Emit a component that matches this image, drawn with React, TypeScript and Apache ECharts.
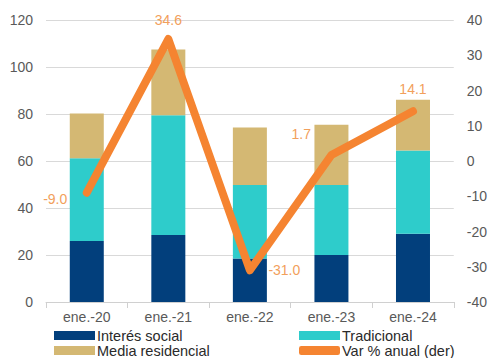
import React, { useEffect, useRef } from "react";
import * as echarts from "echarts";

const categories = ["ene.-20", "ene.-21", "ene.-22", "ene.-23", "ene.-24"];
const interesSocial = [26, 28.5, 18.5, 20, 29];
const tradicional = [35.2, 51, 31.3, 29.8, 35.5];
const mediaResidencial = [19, 28, 24.5, 25.6, 21.6];
const varAnual = [-9.0, 34.6, -31.0, 1.7, 14.1];

const leftTicks = { min: 0, max: 120, interval: 20 };
const rightTicks = { min: -40, max: 40, interval: 10 };

const labelPlacement: any[] = [
  { position: "left", distance: 19, offset: [0, 6] },
  { position: "top", distance: 12, offset: [0, 0] },
  { position: "right", distance: 18, offset: [0, 0] },
  { position: "left", distance: 20, offset: [0, -21] },
  { position: "top", distance: 15, offset: [0, 0] },
];

export default function App() {
  const ref = useRef<HTMLDivElement>(null);
  useEffect(() => {
    if (!ref.current) return;
    const chart = echarts.init(ref.current, null, { renderer: "svg" });
    const font = "Liberation Sans, Arial, sans-serif";
    const axisLabel = { color: "#595959", fontSize: 14, fontFamily: font };
    const legendCommon = {
      orient: "vertical",
      top: 328,
      height: 40,
      itemWidth: 41,
      itemHeight: 9,
      itemGap: 0,
      padding: 0,
      textStyle: { color: "#2a2a2a", fontSize: 14.5, fontFamily: font, padding: [0, 0, 0, -3] },
    };
    chart.setOption({
      animation: false,
      backgroundColor: "#ffffff",
      textStyle: { fontFamily: font },
      grid: { left: 46, right: 34, top: 20, bottom: 56, containLabel: false },
      legend: [
        {
          ...legendCommon,
          left: 54,
          data: [
            { name: "Interés social", icon: "rect" },
            { name: "Media residencial", icon: "rect" },
          ],
        },
        {
          ...legendCommon,
          left: 299,
          data: [
            { name: "Tradicional", icon: "rect" },
            { name: "Var % anual (der)", icon: "roundRect" },
          ],
        },
      ],
      xAxis: {
        type: "category",
        data: categories,
        axisLine: { lineStyle: { color: "#d0d0d0" } },
        axisTick: { show: true, alignWithLabel: false, length: 6, lineStyle: { color: "#d0d0d0" } },
        axisLabel: { ...axisLabel, margin: 8 },
      },
      yAxis: [
        {
          type: "value",
          ...leftTicks,
          axisLine: { show: false },
          axisTick: { show: false },
          axisLabel: { ...axisLabel, margin: 13 },
          splitLine: { lineStyle: { color: "#d9d9d9" } },
        },
        {
          type: "value",
          ...rightTicks,
          position: "right",
          axisLine: { show: false },
          axisTick: { show: false },
          axisLabel: { ...axisLabel, margin: 13 },
          splitLine: { show: false },
        },
      ],
      series: [
        {
          name: "Interés social",
          type: "bar",
          stack: "total",
          barWidth: 34,
          itemStyle: { color: "#023F7C" },
          data: interesSocial,
        },
        {
          name: "Tradicional",
          type: "bar",
          stack: "total",
          barWidth: 34,
          itemStyle: { color: "#2ECCCB" },
          data: tradicional,
        },
        {
          name: "Media residencial",
          type: "bar",
          stack: "total",
          barWidth: 34,
          itemStyle: { color: "#D4B873" },
          data: mediaResidencial,
        },
        {
          name: "Var % anual (der)",
          type: "line",
          yAxisIndex: 1,
          symbol: "circle",
          symbolSize: 1,
          showSymbol: true,
          lineStyle: { color: "#F58431", width: 8, cap: "round", join: "round" },
          itemStyle: { color: "#F58431" },
          z: 5,
          data: varAnual.map((v, i) => ({
            value: v,
            label: {
              show: true,
              formatter: (p: any) => Number(p.value).toFixed(1),
              color: "#F2A05C",
              fontSize: 14,
              fontFamily: font,
              ...labelPlacement[i],
            },
          })),
        },
      ],
    });
    return () => chart.dispose();
  }, []);
  return (
    <div
      ref={ref}
      style={{ position: "absolute", left: 0, top: 0, width: 490, height: 358 }}
    />
  );
}
